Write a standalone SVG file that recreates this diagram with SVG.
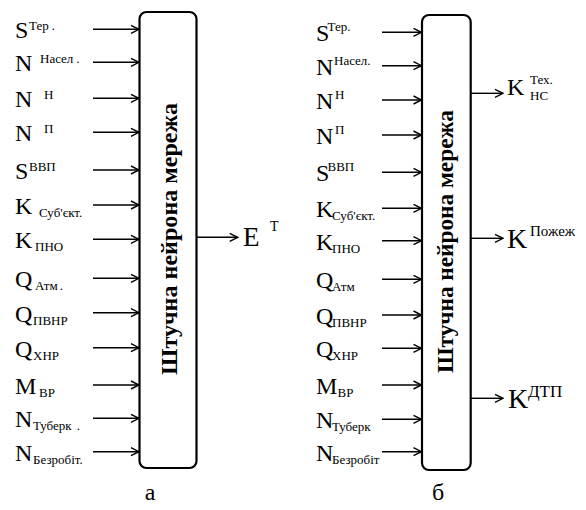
<svg xmlns="http://www.w3.org/2000/svg" width="586" height="510" viewBox="0 0 586 510" font-family="Liberation Serif, Times New Roman, Tinos, DejaVu Serif, serif">
<defs>
<marker id="arr" viewBox="0 0 10 10" refX="9" refY="5" markerWidth="10" markerHeight="10" markerUnits="userSpaceOnUse" orient="auto">
<path d="M1,1 L9,5 L1,9" fill="none" stroke="#000" stroke-width="1.4"/>
</marker>
</defs>
<style>
text{fill:#000;font-family:"Liberation Serif","Times New Roman",Tinos,"DejaVu Serif",serif}
.m{font-size:24px}
.s{font-size:13px}
.box{fill:#fff;stroke:#000;stroke-width:2.2}
.vt{font-size:23px;font-weight:bold;text-anchor:middle}
.c{stroke:#000;stroke-width:1.4;fill:none;marker-end:url(#arr)}
.cap{font-size:24px;text-anchor:middle}
</style>
<g id="connectors">
<line class="c" x1="93" y1="29.3" x2="139" y2="29.3"/>
<line class="c" x1="93" y1="62.3" x2="139" y2="62.3"/>
<line class="c" x1="93" y1="98.3" x2="139" y2="98.3"/>
<line class="c" x1="93" y1="132.3" x2="139" y2="132.3"/>
<line class="c" x1="93" y1="170" x2="139" y2="170"/>
<line class="c" x1="93" y1="205" x2="139" y2="205"/>
<line class="c" x1="93" y1="239.3" x2="139" y2="239.3"/>
<line class="c" x1="93" y1="278.3" x2="139" y2="278.3"/>
<line class="c" x1="93" y1="312.7" x2="139" y2="312.7"/>
<line class="c" x1="93" y1="347.7" x2="139" y2="347.7"/>
<line class="c" x1="93" y1="385" x2="139" y2="385"/>
<line class="c" x1="93" y1="418.3" x2="139" y2="418.3"/>
<line class="c" x1="93" y1="451.7" x2="139" y2="451.7"/>
<line class="c" x1="197" y1="237.3" x2="237.7" y2="237.3"/>
<line class="c" x1="382" y1="32.3" x2="421.5" y2="32.3"/>
<line class="c" x1="382" y1="65.7" x2="421.5" y2="65.7"/>
<line class="c" x1="382" y1="100" x2="421.5" y2="100"/>
<line class="c" x1="382" y1="135" x2="421.5" y2="135"/>
<line class="c" x1="382" y1="172.3" x2="421.5" y2="172.3"/>
<line class="c" x1="382" y1="208.3" x2="421.5" y2="208.3"/>
<line class="c" x1="382" y1="240.7" x2="421.5" y2="240.7"/>
<line class="c" x1="382" y1="279.3" x2="421.5" y2="279.3"/>
<line class="c" x1="382" y1="315" x2="421.5" y2="315"/>
<line class="c" x1="382" y1="348.3" x2="421.5" y2="348.3"/>
<line class="c" x1="382" y1="385" x2="421.5" y2="385"/>
<line class="c" x1="382" y1="419.3" x2="421.5" y2="419.3"/>
<line class="c" x1="382" y1="451.7" x2="421.5" y2="451.7"/>
<line class="c" x1="471" y1="93.3" x2="503" y2="93.3"/>
<line class="c" x1="471" y1="238.3" x2="503" y2="238.3"/>
<line class="c" x1="471" y1="398.3" x2="503" y2="398.3"/>
</g>
<g id="nn-a">
<rect class="box" x="139.5" y="12" width="57" height="456" rx="7"/>
<text class="vt" transform="translate(177,239) rotate(-90)" textLength="272" lengthAdjust="spacingAndGlyphs">Штучна нейрона мережа</text>
</g>
<g id="inputs-a">
<text><tspan class="m" x="15" y="38.3">S</tspan><tspan class="s" x="29" y="30.3">Тер<tspan dx="3">.</tspan></tspan></text>
<text><tspan class="m" x="15" y="71.3">N</tspan><tspan class="s" x="40" y="63.3">Насел<tspan dx="3">.</tspan></tspan></text>
<text><tspan class="m" x="15" y="107.3">N</tspan><tspan class="s" x="44" y="99.3">Н</tspan></text>
<text><tspan class="m" x="15" y="141.3">N</tspan><tspan class="s" x="44" y="133.3">П</tspan></text>
<text><tspan class="m" x="15" y="179">S</tspan><tspan class="s" x="29" y="171">ВВП</tspan></text>
<text><tspan class="m" x="15" y="214">K</tspan><tspan class="s" x="39" y="217">Суб'єкт.</tspan></text>
<text><tspan class="m" x="15" y="248.3">K</tspan><tspan class="s" x="35" y="251.3">ПНО</tspan></text>
<text><tspan class="m" x="15" y="287.3">Q</tspan><tspan class="s" x="35" y="290.3">Атм<tspan dx="2">.</tspan></tspan></text>
<text><tspan class="m" x="15" y="321.7">Q</tspan><tspan class="s" x="33" y="324.7">ПВНР</tspan></text>
<text><tspan class="m" x="15" y="356.7">Q</tspan><tspan class="s" x="33" y="359.7">ХНР</tspan></text>
<text><tspan class="m" x="15" y="394">M</tspan><tspan class="s" x="39" y="397">ВР</tspan></text>
<text><tspan class="m" x="15" y="427.3">N</tspan><tspan class="s" x="33" y="430.3">Туберк<tspan dx="5">.</tspan></tspan></text>
<text><tspan class="m" x="15" y="460.7">N</tspan><tspan class="s" x="33" y="463.7">Безробіт.</tspan></text>
</g>
<g id="output-a">
<text><tspan x="243" y="246" style="font-size:27px">E</tspan><tspan x="270" y="231" style="font-size:14px">Т</tspan></text>
</g>
<g id="nn-b">
<rect class="box" x="422" y="15" width="48.7" height="455" rx="7"/>
<text class="vt" transform="translate(453,241.5) rotate(-90)" textLength="263" lengthAdjust="spacingAndGlyphs">Штучна нейрона мережа</text>
</g>
<g id="inputs-b">
<text><tspan class="m" x="316" y="41.3">S</tspan><tspan class="s" x="327.5" y="31.3">Тер.</tspan></text>
<text><tspan class="m" x="316" y="74.7">N</tspan><tspan class="s" x="334" y="64.7">Насел.</tspan></text>
<text><tspan class="m" x="316" y="109">N</tspan><tspan class="s" x="335" y="99">Н</tspan></text>
<text><tspan class="m" x="316" y="144">N</tspan><tspan class="s" x="335" y="134">П</tspan></text>
<text><tspan class="m" x="316" y="181.3">S</tspan><tspan class="s" x="327.5" y="171.3">ВВП</tspan></text>
<text><tspan class="m" x="316" y="217.3">K</tspan><tspan class="s" x="332" y="220.3">Суб'єкт.</tspan></text>
<text><tspan class="m" x="316" y="249.7">K</tspan><tspan class="s" x="332" y="252.7">ПНО</tspan></text>
<text><tspan class="m" x="316" y="288.3">Q</tspan><tspan class="s" x="332" y="291.3">Атм</tspan></text>
<text><tspan class="m" x="316" y="324">Q</tspan><tspan class="s" x="332" y="327">ПВНР</tspan></text>
<text><tspan class="m" x="316" y="357.3">Q</tspan><tspan class="s" x="332" y="360.3">ХНР</tspan></text>
<text><tspan class="m" x="316" y="394">M</tspan><tspan class="s" x="337.5" y="397">ВР</tspan></text>
<text><tspan class="m" x="316" y="428.3">N</tspan><tspan class="s" x="332" y="431.3">Туберк</tspan></text>
<text><tspan class="m" x="316" y="460.7">N</tspan><tspan class="s" x="332" y="463.7">Безробіт</tspan></text>
</g>
<g id="outputs-b">
<text><tspan class="m" x="507" y="95">K</tspan><tspan class="s" x="530" y="84">Тех.</tspan><tspan class="s" x="530" y="100">НС</tspan></text>
<text><tspan x="507" y="248" style="font-size:28px">K</tspan><tspan x="530" y="236" style="font-size:15px">Пожеж</tspan></text>
<text><tspan x="508" y="408" style="font-size:28px">K</tspan><tspan x="528" y="396.5" style="font-size:17px">ДТП</tspan></text>
</g>
<g id="captions">
<text class="cap" x="150" y="500">а</text>
<text class="cap" x="438" y="500">б</text>
</g>
</svg>
